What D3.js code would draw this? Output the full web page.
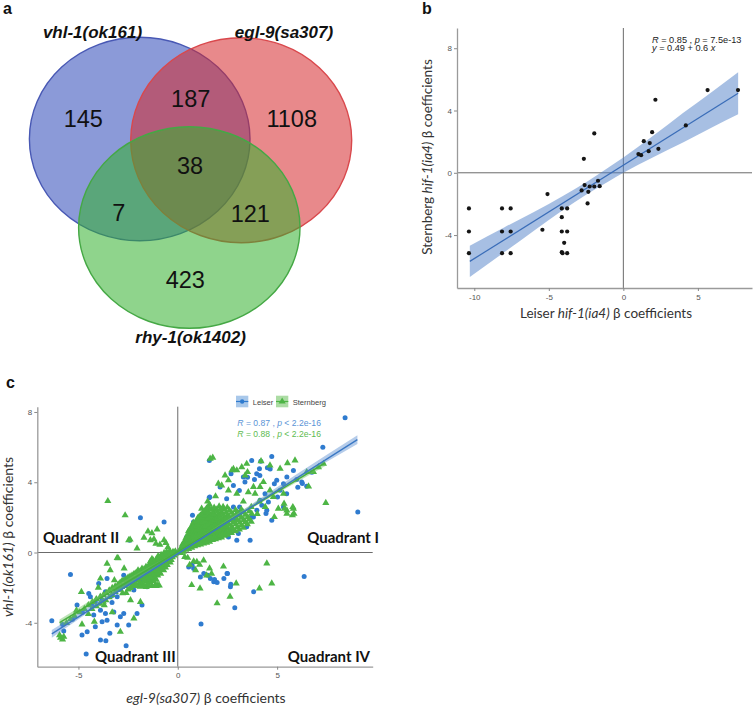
<!DOCTYPE html>
<html><head><meta charset="utf-8">
<script src="https://cdn.jsdelivr.net/npm/d3@7"></script>
<style>body{margin:0;background:#fff} svg{display:block}</style>
</head><body>
<svg id="fig" width="756" height="707"></svg>
<script>
// ---------------- DATA ----------------
// Panel a: Venn
const vennSets = ["vhl-1(ok161)", "egl-9(sa307)", "rhy-1(ok1402)"];
const vennRegions = ["vhl only", "egl only", "rhy only", "vhl∩egl", "vhl∩rhy", "egl∩rhy", "all"];
const vennCounts = [145, 1108, 423, 187, 7, 121, 38];

// Panel b: Leiser vs Sternberg hif-1(ia4)
const bXTicks = [-10, -5, 0, 5];
const bYTicks = [-4, 0, 4, 8];
const bPoints = [
  [-10.36,-2.29],[-10.36,-3.77],[-10.36,-5.16],[-8.14,-2.29],[-8.14,-3.77],[-8.14,-5.16],
  [-7.56,-2.29],[-7.56,-3.77],[-7.56,-5.16],[-5.09,-1.37],[-5.43,-3.66],[-4.13,-2.29],
  [-4.13,-2.85],[-4.13,-3.77],[-4.13,-5.10],[-4.08,-5.16],[-3.97,-4.50],[-3.77,-2.29],
  [-3.77,-3.77],[-3.77,-5.16],[-2.65,0.90],[-2.60,-0.79],[-2.80,-1.13],[-2.35,-1.22],
  [-2.26,-0.88],[-2.40,-1.97],[-1.95,2.53],[-1.95,-0.88],[-1.70,-0.51],[-1.59,-0.86],
  [1.01,1.20],[1.19,1.13],[1.37,2.03],[1.77,1.91],[1.70,1.39],[1.93,2.61],[2.15,4.69],
  [2.35,1.54],[4.19,3.04],[5.65,5.31],[7.69,5.31]
];
const bFitLine = [[-10.3,-5.69],[7.7,5.11]];
const bFitBand = [ // [x, lower, upper]
  [-10.3,-6.69,-4.69],[-8,-5.11,-3.51],[-6,-3.72,-2.52],[-4,-2.36,-1.46],[-2.5,-1.41,-0.61],
  [-1,-0.56,0.34],[0,0.0,0.99],[2,1.0,2.38],[4,1.94,3.84],[6,2.94,5.24],[7.7,3.76,6.46]
];
const bStats = ["R = 0.85 , p = 7.5e-13", "y = 0.49 + 0.6 x"];

// Panel c: egl-9 vs vhl-1
const cXTicks = [-5, 0, 5];
const cYTicks = [-4, 0, 4, 8];
const cSeries = ["Leiser", "Sternberg"];
const cLeiser = [
  [8.42,7.67],[7.30,5.99],[9.06,2.31],[6.36,-1.36],[4.73,5.47],[3.72,5.24],[1.59,5.24],[1.61,3.16],
  [-1.88,1.98],[-0.69,1.74],[-2.42,0.70],[4.11,4.77],[4.51,4.83],[3.97,4.49],[4.13,4.39],[3.86,4.15],
  [5.49,4.30],[5.99,4.15],[6.24,4.01],[6.49,3.77],[6.27,3.93],[4.98,4.11],[5.32,3.92],[4.86,3.92],
  [4.39,3.35],[4.56,2.88],[4.23,2.69],[3.98,2.40],[4.44,2.22],[3.72,2.02],[3.14,2.22],[3.11,2.59],
  [2.80,3.82],[3.30,4.30],[3.38,4.01],[2.68,4.49],[2.13,3.73],[1.58,3.12],[2.46,3.06],[3.64,0.70],
  [3.05,1.08],[3.47,1.46],[2.72,1.36],[2.88,1.87],[2.38,1.65],[2.21,2.50],[1.84,2.02],[1.21,2.02],
  [1.04,1.84],[0.79,1.74],[0.74,2.12],[1.12,1.46],[0.62,1.27],[0.45,0.89],[1.62,0.80],[2.04,0.98],
  [2.55,0.89],[2.97,0.70],[5.15,3.54],[5.48,3.35],[5.02,3.16],[5.32,2.59],[4.73,1.83],[4.48,2.40],
  [3.81,2.02],[2.80,2.59],[4.14,2.97],[6.04,3.72],[6.75,4.57],[5.82,4.67],[4.18,5.20],[3.51,4.29],
  [3.10,3.53],[4.65,4.76],[0.30,0.25],[0.60,0.50],[1.00,0.80],[1.40,1.00],[1.80,1.40],[2.20,1.60],
  [2.60,2.00],[3.00,2.30],[0.90,1.20],[1.30,1.60],[1.70,0.90],[2.30,1.20],
  [1.17,-4.07],[0.55,-0.82],[0.80,-0.91],[1.14,-1.39],[1.31,-1.19],[1.64,-1.48],[1.81,-1.67],
  [1.51,-1.29],[1.98,-1.70],[2.48,-1.19],[2.32,-1.48],[2.65,-1.95],[2.87,-3.15],[3.82,-2.24],
  [0.72,-0.72],[2.50,-1.19],[2.67,-1.80],[1.85,-1.53],
  [-5.40,-1.25],[-6.34,-3.88],[-4.61,-5.78],[-2.60,-5.31],[-3.62,-5.02],[-3.42,-4.60],[-4.56,-4.51],
  [-4.82,-4.70],[-4.15,-4.23],[-3.81,-3.94],[-3.56,-3.85],[-3.05,-4.13],[-2.89,-3.66],[-2.47,-4.13],
  [-3.22,-3.38],[-3.64,-3.47],[-3.89,-3.28],[-4.23,-3.56],[-2.72,-3.47],[-3.31,-2.84],[-5.07,-2.99],
  [-4.40,-2.52],[-4.15,-2.81],[-3.64,-2.24],[-3.05,-2.52],[-2.64,-1.86],[-2.72,-1.29],[-3.56,-1.48],
  [-3.98,-1.76],[-2.21,-2.14],[-1.80,-2.99],[-2.05,-3.47],[-1.88,-1.67],[-1.55,-1.95],[-5.74,-4.47],
  [-4.48,-2.33],[-3.89,-4.98],
  [-0.40,-0.30],[-0.80,-0.60],[-1.20,-0.90],[-1.60,-1.20],[-2.00,-1.45],[-2.40,-1.75],[-2.90,-2.00],
  [-3.30,-2.45],[-3.80,-2.70],[-4.30,-3.05],[-4.80,-3.40],[-5.30,-3.80],[-5.80,-4.10]
];
const cSternberg = [
  [-3.52,2.93],[-2.65,2.12],[1.63,5.34],[1.76,5.40],[2.80,4.76],[4.19,5.20],[4.64,4.96],[5.52,5.09],
  [5.90,5.24],[5.15,4.77],[7.45,2.82],[6.58,3.76],[5.82,2.50],[5.77,2.12],[5.37,2.50],[3.47,5.05],
  [3.22,4.86],[2.97,4.68],[2.72,4.68],[2.55,4.11],[2.38,4.39],[3.39,4.39],[3.51,4.58],[4.31,4.01],
  [2.04,3.92],[2.21,3.82],[2.55,3.54],[2.97,3.35],[3.55,3.44],[3.89,3.35],[4.14,3.73],[3.81,3.73],
  [4.64,3.54],[4.81,3.16],[5.32,3.35],[5.35,2.78],[5.49,2.40],[5.85,2.21],[5.49,2.21],[5.06,2.50],
  [4.86,2.02],[5.79,2.59],[6.83,4.58],[6.49,4.58],[7.08,4.86],[7.33,5.05],[4.40,2.60],[4.10,2.90],
  [3.70,2.60],[3.30,2.90],[4.00,2.20],[1.90,3.20],[1.50,2.90],[1.20,2.50],
  [4.48,-0.62],[4.73,-1.76],[4.11,-2.04],[2.63,-2.51],[1.98,-2.89],[2.94,-1.76],[1.12,-2.04],
  [0.70,-1.85],[0.96,-0.53],[0.50,-0.30],[0.80,-0.50],[1.10,-0.70],[1.30,-0.45],[1.60,-0.90],
  [0.90,-1.00],[1.70,-1.20],[2.30,-0.80],[0.60,-0.70],[1.45,-1.30],[0.35,-0.25],
  [-1.30,1.10],[-1.50,1.20],[-1.20,0.76],[-0.69,0.70],[-2.40,0.74],[-0.90,0.45],[-0.50,0.30],
  [-1.10,0.50],[-0.60,0.55],[-1.70,0.85],[-2.05,0.23],[-1.38,0.70],[-1.04,1.32],[-2.47,0.70],
  [-5.74,-4.79],[-5.90,-4.85],[-5.95,-4.70],[-5.80,-4.95],[-4.85,-2.24],[-4.82,-4.09],[-4.20,-3.94],
  [-3.56,-0.63],[-3.05,-0.31],[-3.89,-1.48],[-3.19,-1.57],[-2.89,-4.51],[-2.21,-3.75],[-1.88,-2.81],
  [-2.38,-2.71],[-3.30,-3.40],[-3.00,-0.33],[-4.50,-3.50],[-5.10,-3.30],[-3.70,-3.00],[-2.60,-2.30],
  [-4.00,-2.00],[-3.40,-1.00],[-2.70,-0.90],
  // dense core, quadrant I
  [0.10,0.05],[0.12,0.18],[0.15,-0.02],[0.25,0.10],[0.27,0.32],[0.24,0.47],[0.28,0.04],
  [0.40,0.16],[0.42,0.37],[0.38,0.61],[0.41,0.83],[0.55,0.21],[0.57,0.46],[0.53,0.72],[0.56,0.97],
  [0.54,1.22],[0.70,0.28],[0.72,0.52],[0.69,0.77],[0.71,1.02],[0.68,1.31],[0.73,1.56],
  [0.85,0.36],[0.87,0.61],[0.84,0.86],[0.86,1.12],[0.83,1.37],[0.88,1.62],
  [1.00,0.41],[1.02,0.66],[0.98,0.92],[1.01,1.17],[0.99,1.42],[1.03,1.71],[1.00,1.96],
  [1.15,0.46],[1.17,0.72],[1.13,0.97],[1.16,1.26],[1.14,1.52],[1.18,1.81],[1.15,2.12],
  [1.30,0.52],[1.32,0.81],[1.28,1.06],[1.31,1.32],[1.29,1.61],[1.33,1.91],[1.30,2.31],
  [1.45,0.56],[1.47,0.86],[1.43,1.12],[1.46,1.41],[1.44,1.72],[1.48,2.02],[1.45,2.52],
  [1.60,0.61],[1.62,0.92],[1.58,1.21],[1.61,1.52],[1.59,1.82],[1.63,2.16],[1.60,2.72],
  [1.75,0.71],[1.77,1.02],[1.73,1.31],[1.76,1.62],[1.74,1.96],[1.78,2.31],
  [1.90,0.76],[1.92,1.06],[1.88,1.36],[1.91,1.71],[1.89,2.06],[1.93,2.46],
  [2.05,0.81],[2.07,1.12],[2.03,1.46],[2.06,1.81],[2.04,2.16],[2.08,2.62],
  [2.20,0.86],[2.22,1.21],[2.18,1.56],[2.21,1.91],[2.19,2.31],
  [2.35,0.96],[2.37,1.31],[2.33,1.62],[2.36,2.01],[2.34,2.46],
  [2.50,1.01],[2.52,1.36],[2.48,1.71],[2.51,2.11],[2.49,2.56],
  [2.70,1.11],[2.72,1.46],[2.68,1.86],[2.71,2.26],[2.90,1.21],[2.92,1.61],[2.88,2.01],[2.91,2.41],
  [3.10,1.31],[3.12,1.71],[3.08,2.11],[3.30,1.41],[3.32,1.86],[3.28,2.31],[3.50,1.61],[3.52,2.01],
  [3.70,1.76],[3.72,2.21],
  [0.18,0.12],[0.18,0.28],[0.33,0.22],[0.33,0.42],[0.33,0.62],[0.47,0.28],[0.47,0.52],[0.47,0.74],[0.47,0.95],
  [0.62,0.34],[0.62,0.60],[0.62,0.86],[0.62,1.10],[0.62,1.35],[0.78,0.42],[0.78,0.66],[0.78,0.92],[0.78,1.20],
  [0.78,1.45],[0.78,1.70],[0.93,0.50],[0.93,0.75],[0.93,1.00],[0.93,1.26],[0.93,1.50],[0.93,1.78],
  [1.08,0.55],[1.08,0.80],[1.08,1.06],[1.08,1.32],[1.08,1.60],[1.08,1.86],[1.08,2.05],
  [1.23,0.60],[1.23,0.88],[1.23,1.14],[1.23,1.42],[1.23,1.70],[1.23,2.00],[1.23,2.20],
  [1.38,0.66],[1.38,0.95],[1.38,1.22],[1.38,1.50],[1.38,1.80],[1.38,2.12],[1.38,2.40],
  [1.53,0.72],[1.53,1.02],[1.53,1.30],[1.53,1.62],[1.53,1.95],[1.53,2.30],[1.53,2.60],
  [1.68,0.80],[1.68,1.10],[1.68,1.42],[1.68,1.74],[1.68,2.08],[1.68,2.45],
  [1.83,0.86],[1.83,1.18],[1.83,1.50],[1.83,1.84],[1.83,2.18],[1.83,2.55],
  [1.98,0.92],[1.98,1.26],[1.98,1.60],[1.98,1.95],[1.98,2.32],
  [2.13,0.98],[2.13,1.36],[2.13,1.72],[2.13,2.06],[2.13,2.45],
  [2.28,1.05],[2.28,1.42],[2.28,1.78],[2.28,2.15],[2.28,2.60],
  [2.43,1.12],[2.43,1.50],[2.43,1.88],[2.43,2.28],[2.60,1.20],[2.60,1.58],[2.60,1.98],[2.60,2.40],
  [2.80,1.30],[2.80,1.72],[2.80,2.12],[3.00,1.45],[3.00,1.85],[3.00,2.25],[3.20,1.55],[3.20,1.98],
  [3.20,2.45],[3.40,1.72],[3.40,2.15],[3.60,1.88],[3.60,2.35],
  // dense core, quadrant III
  [-0.10,-0.05],[-0.12,0.06],[-0.25,-0.10],[-0.27,-0.26],[-0.24,0.04],
  [-0.40,-0.16],[-0.42,-0.36],[-0.38,-0.56],[-0.41,0.09],[-0.55,-0.24],[-0.57,-0.46],[-0.53,-0.71],
  [-0.56,0.04],[-0.70,-0.31],[-0.72,-0.56],[-0.68,-0.81],[-0.71,-1.01],[-0.69,-0.02],
  [-0.85,-0.39],[-0.87,-0.66],[-0.83,-0.91],[-0.86,-1.21],[-0.84,-0.14],
  [-1.00,-0.46],[-1.02,-0.71],[-0.98,-1.01],[-1.01,-1.31],[-1.00,-1.86],[-0.99,-0.21],
  [-1.15,-0.56],[-1.17,-0.81],[-1.13,-1.11],[-1.16,-1.41],[-1.14,-1.86],
  [-1.30,-0.61],[-1.32,-0.91],[-1.28,-1.21],[-1.31,-1.51],[-1.29,-1.91],[-1.30,-0.36],
  [-1.45,-0.71],[-1.47,-1.01],[-1.43,-1.31],[-1.46,-1.61],[-1.44,-1.91],
  [-1.60,-0.81],[-1.62,-1.06],[-1.58,-1.36],[-1.61,-1.66],[-1.59,-1.96],
  [-1.80,-0.91],[-1.82,-1.16],[-1.78,-1.46],[-1.81,-1.81],
  [-2.00,-1.01],[-2.02,-1.31],[-1.98,-1.61],[-2.01,-1.91],
  [-2.20,-1.21],[-2.22,-1.46],[-2.18,-1.76],[-2.40,-1.36],[-2.42,-1.61],[-2.38,-2.01],
  [-2.60,-1.51],[-2.62,-1.81],[-2.80,-1.61],[-2.82,-1.96],[-2.78,-2.31],[-3.00,-1.81],[-3.02,-2.11],
  [-3.30,-2.01],[-3.32,-2.41],[-3.60,-2.31],[-3.62,-2.71],[-3.90,-2.51],[-3.92,-2.91],
  [-4.30,-2.81],[-4.32,-3.21],[-4.70,-3.21],[-5.20,-3.61],[-5.60,-4.01],
  [-0.18,-0.16],[-0.18,0.00],[-0.33,-0.20],[-0.33,-0.42],[-0.33,-0.05],[-0.47,-0.28],[-0.47,-0.50],
  [-0.47,-0.10],[-0.62,-0.36],[-0.62,-0.60],[-0.62,-0.85],[-0.62,-0.12],[-0.78,-0.44],[-0.78,-0.70],
  [-0.78,-0.95],[-0.78,-0.20],[-0.93,-0.52],[-0.93,-0.80],[-0.93,-1.10],[-0.93,-0.30],[-0.93,-1.88],
  [-1.08,-0.60],[-1.08,-0.90],[-1.08,-1.20],[-1.08,-0.38],[-1.08,-1.55],[-1.08,-1.90],
  [-1.23,-0.70],[-1.23,-1.00],[-1.23,-1.30],[-1.23,-1.62],[-1.23,-0.45],
  [-1.38,-0.78],[-1.38,-1.10],[-1.38,-1.40],[-1.38,-1.72],[-1.38,-0.50],
  [-1.53,-0.88],[-1.53,-1.20],[-1.53,-1.50],[-1.53,-1.80],[-1.70,-0.96],[-1.70,-1.26],[-1.70,-1.58],
  [-1.70,-1.90],[-1.90,-1.08],[-1.90,-1.38],[-1.90,-1.70],[-1.90,-1.95],[-2.10,-1.16],[-2.10,-1.50],
  [-2.10,-1.84],[-2.30,-1.30],[-2.30,-1.56],[-2.30,-1.90],[-2.50,-1.42],[-2.50,-1.70],[-2.50,-2.10],
  [-2.70,-1.58],[-2.70,-1.90],[-2.90,-1.72],[-2.90,-2.10],[-3.15,-1.92],[-3.15,-2.25],[-3.45,-2.15],
  [-3.45,-2.55],[-3.75,-2.42],[-3.75,-2.80],[-4.10,-2.65],[-4.10,-3.05],[-4.50,-3.00],[-4.95,-3.40],
  [-5.40,-3.80]
];
const cLeiserLine = [[-6.34,-4.63],[9.04,6.43]];
const cSternbergLine = [[-5.95,-3.99],[7.42,5.10]];
const cLeiserBand = [[-6.34,-4.85,-4.41],[-3,-2.26,-2.06],[0,-0.12,-0.02],[3,2.06,2.22],[6,4.17,4.47],[9.04,6.18,6.68]];
const cSternbergBand = [[-5.95,-4.17,-3.81],[-3,-2.01,-1.81],[0,0.0,0.1],[3,2.04,2.22],[7.42,4.92,5.28]];
const cStats = ["R = 0.87 , p < 2.2e-16", "R = 0.88 , p < 2.2e-16"];
const cQuadrants = ["Quadrant I", "Quadrant II", "Quadrant III", "Quadrant IV"];

// ---------------- DRAW ----------------
const svg = d3.select("#fig");
const SANS = "'Liberation Sans', Arial, sans-serif";
const CAL = "Lato, 'Open Sans', sans-serif";

// panel letters
[["a",3,14],["b",422,14],["c",6,388]].forEach(([t,x,y]) =>
  svg.append("text").attr("x",x).attr("y",y).text(t)
    .attr("font-family",SANS).attr("font-weight","bold").attr("font-size",16).attr("fill","#111"));

// ===== Panel a =====
const ga = svg.append("g");
const ell = [
  {cx:139.7, cy:139, rx:110.3, ry:101.7, fill:"#2c47b8", stroke:"#4858b4"},
  {cx:241.2, cy:140.2, rx:110.5, ry:102.5, fill:"#d5282c", stroke:"#d9484c"},
  {cx:189.3, cy:227.5, rx:110.7, ry:100.8, fill:"#33b12e", stroke:"#45a845"}
];
ga.selectAll("ellipse.f").data(ell).join("ellipse")
  .attr("cx",d=>d.cx).attr("cy",d=>d.cy).attr("rx",d=>d.rx).attr("ry",d=>d.ry)
  .attr("fill",d=>d.fill).attr("fill-opacity",0.55)
  .attr("stroke",d=>d.stroke).attr("stroke-width",1.4);
const setLabelPos = [[92.5,38],[284,37.5],[190.6,343]];
vennSets.forEach((s,i)=>ga.append("text").attr("x",setLabelPos[i][0]).attr("y",setLabelPos[i][1])
  .attr("text-anchor","middle").attr("font-family",SANS).attr("font-weight","bold")
  .attr("font-style","italic").attr("font-size",17).attr("fill","#111").text(s));
const regionPos = [[83.3,126.7],[291.7,126.7],[185.3,288.3],[190.7,107.3],[118.8,221],[250.3,221.7],[190,174]];
vennCounts.forEach((c,i)=>ga.append("text").attr("x",regionPos[i][0]).attr("y",regionPos[i][1])
  .attr("text-anchor","middle").attr("font-family",SANS).attr("font-size",23.5).attr("fill","#111").text(c));

// ===== Panel b =====
const gb = svg.append("g");
const xB = d3.scaleLinear().domain([-11.16, 8.63]).range([457, 752]);
const yB = d3.scaleLinear().domain([-7.4, 9.3]).range([288, 28]);
gb.append("line").attr("x1",xB(0)).attr("x2",xB(0)).attr("y1",28).attr("y2",288).attr("stroke","#6b6b6b").attr("stroke-width",1);
gb.append("line").attr("x1",457).attr("x2",752).attr("y1",yB(0)).attr("y2",yB(0)).attr("stroke","#6b6b6b").attr("stroke-width",1);
gb.append("path").datum(bFitBand)
  .attr("d", d3.area().x(d=>xB(d[0])).y0(d=>yB(d[1])).y1(d=>yB(d[2])).curve(d3.curveMonotoneX))
  .attr("fill","#4f7fc8").attr("fill-opacity",0.5);
gb.append("path").datum(bFitLine).attr("d", d3.line().x(d=>xB(d[0])).y(d=>yB(d[1])))
  .attr("stroke","#3a6db8").attr("stroke-width",1.2).attr("fill","none");
gb.selectAll("circle").data(bPoints).join("circle")
  .attr("cx",d=>xB(d[0])).attr("cy",d=>yB(d[1])).attr("r",2.1).attr("fill","#151515");
function styleAxis(g){
  g.select(".domain").attr("stroke","#9a9a9a").attr("stroke-width",1.3);
  g.selectAll(".tick line").attr("stroke","#888");
  g.selectAll(".tick text").attr("fill","#555").attr("font-family",SANS).attr("font-size",8);
}
gb.append("g").attr("transform","translate(0,288)")
  .call(d3.axisBottom(xB).tickValues(bXTicks).tickSize(3).tickSizeOuter(0).tickPadding(3).tickFormat(d=>String(d)))
  .call(styleAxis);
gb.append("g").attr("transform","translate(457,0)")
  .call(d3.axisLeft(yB).tickValues(bYTicks).tickSize(3).tickSizeOuter(0).tickPadding(2).tickFormat(d=>String(d)))
  .call(styleAxis);
bStats.forEach((s,i)=>{
  const t = gb.append("text").attr("x",652).attr("y",42.5+i*8.6).attr("font-family",SANS).attr("font-size",9.2).attr("fill","#222");
  if(i===0){ t.append("tspan").attr("font-style","italic").text("R"); t.append("tspan").text(" = 0.85 , ");
    t.append("tspan").attr("font-style","italic").text("p"); t.append("tspan").text(" = 7.5e-13"); }
  else { t.append("tspan").attr("font-style","italic").text("y"); t.append("tspan").text(" = 0.49 + 0.6 ");
    t.append("tspan").attr("font-style","italic").text("x"); }
});
function axisTitle(g, x, y, rot, parts, size){
  const t = g.append("text").attr("text-anchor","middle").attr("font-family",CAL).attr("font-size",size).attr("fill","#333")
    .attr("transform",`translate(${x},${y}) rotate(${rot})`);
  parts.forEach(p=>t.append("tspan").attr("font-style",p[1]?"italic":"normal").text(p[0]));
  return t;
}
axisTitle(gb, 606, 318, 0, [["Leiser ",0],["hif-1(ia4)",1],[" β coefficients",0]], 13.5);
axisTitle(gb, 432, 157, -90, [["Sternberg ",0],["hif-1(ia4)",1],[" β coefficients",0]], 13.5);

// ===== Panel c =====
const gc = svg.append("g");
const xC = d3.scaleLinear().domain([-7.07, 9.81]).range([37.3, 372.7]);
const yC = d3.scaleLinear().domain([-6.5, 8.3]).range([666.7, 406.7]);
const BLUE = "#2f7bcf", GREEN = "#4db545";
gc.append("line").attr("x1",xC(0)).attr("x2",xC(0)).attr("y1",406.7).attr("y2",666.7).attr("stroke","#6b6b6b").attr("stroke-width",1);
gc.append("line").attr("x1",37.3).attr("x2",372.7).attr("y1",yC(0)).attr("y2",yC(0)).attr("stroke","#6b6b6b").attr("stroke-width",1);
gc.selectAll("circle.le").data(cLeiser).join("circle").attr("class","le")
  .attr("cx",d=>xC(d[0])).attr("cy",d=>yC(d[1])).attr("r",2.5).attr("fill",BLUE);
const tri = d3.symbol().type(d3.symbolTriangle).size(22);
gc.selectAll("path.st").data(cSternberg).join("path").attr("class","st")
  .attr("transform",d=>`translate(${xC(d[0])},${yC(d[1])})`).attr("d",tri).attr("fill",GREEN);
const bandArea = d3.area().x(d=>xC(d[0])).y0(d=>yC(d[1])).y1(d=>yC(d[2])).curve(d3.curveMonotoneX);
gc.append("path").datum(cLeiserBand).attr("d",bandArea).attr("fill","#5b8fd0").attr("fill-opacity",0.45);
gc.append("path").datum(cSternbergBand).attr("d",bandArea).attr("fill","#6cc060").attr("fill-opacity",0.45);
const lineC = d3.line().x(d=>xC(d[0])).y(d=>yC(d[1]));
gc.append("path").datum(cSternbergLine).attr("d",lineC).attr("stroke","#46ad3f").attr("stroke-width",1.4).attr("fill","none");
gc.append("path").datum(cLeiserLine).attr("d",lineC).attr("stroke","#3a78c4").attr("stroke-width",1.4).attr("fill","none");
gc.append("g").attr("transform","translate(0,666.7)")
  .call(d3.axisBottom(xC).tickValues(cXTicks).tickSize(3).tickSizeOuter(0).tickPadding(3).tickFormat(d=>String(d)))
  .call(styleAxis);
gc.append("g").attr("transform","translate(37.3,0)")
  .call(d3.axisLeft(yC).tickValues(cYTicks).tickSize(3).tickSizeOuter(0).tickPadding(2).tickFormat(d=>String(d)))
  .call(styleAxis);
const qStyle = t => t.attr("font-family",CAL).attr("font-weight","bold").attr("font-size",15).attr("fill","#111");
qStyle(gc.append("text").attr("x",379).attr("y",543).attr("text-anchor","end").text(cQuadrants[0]));
qStyle(gc.append("text").attr("x",43).attr("y",543).text(cQuadrants[1]));
qStyle(gc.append("text").attr("x",95).attr("y",662).text(cQuadrants[2]));
qStyle(gc.append("text").attr("x",370).attr("y",662).attr("text-anchor","end").text(cQuadrants[3]));
[[BLUE,"#5a94d6"],[GREEN,"#5dbb50"]].forEach((c,i)=>{
  const t = gc.append("text").attr("x",237.3).attr("y",426+i*11.3).attr("font-family",SANS).attr("font-size",8.6).attr("fill",c[1]);
  const parts = cStats[i].split(/(R|p)/).filter(s=>s.length);
  parts.forEach(p=>t.append("tspan").attr("font-style",(p==="R"||p==="p")?"italic":"normal").text(p));
});
const legX = [236, 276], legTX = [252.7, 292.7];
cSeries.forEach((s,i)=>{
  const col = i===0?BLUE:GREEN;
  gc.append("rect").attr("x",legX[i]).attr("y",395.7).attr("width",12.3).attr("height",11.6)
    .attr("fill",i===0?"#a9c8ea":"#acdca4");
  gc.append("line").attr("x1",legX[i]).attr("x2",legX[i]+12.3).attr("y1",401.5).attr("y2",401.5).attr("stroke",col).attr("stroke-width",1.2);
  if(i===0) gc.append("circle").attr("cx",legX[i]+6.15).attr("cy",401.5).attr("r",2.2).attr("fill",col);
  else gc.append("path").attr("transform",`translate(${legX[i]+6.15},401.5)`).attr("d",tri).attr("fill",col);
  gc.append("text").attr("x",legTX[i]).attr("y",404.6).attr("font-family",SANS).attr("font-size",7.6).attr("fill","#444").text(s);
});
axisTitle(gc, 206, 702.7, 0, [["egl-9(sa307)",1],[" β coefficients",0]], 14);
axisTitle(gc, 13, 537, -90, [["vhl-1(ok161)",1],[" β coefficients",0]], 14);
</script>
</body></html>
